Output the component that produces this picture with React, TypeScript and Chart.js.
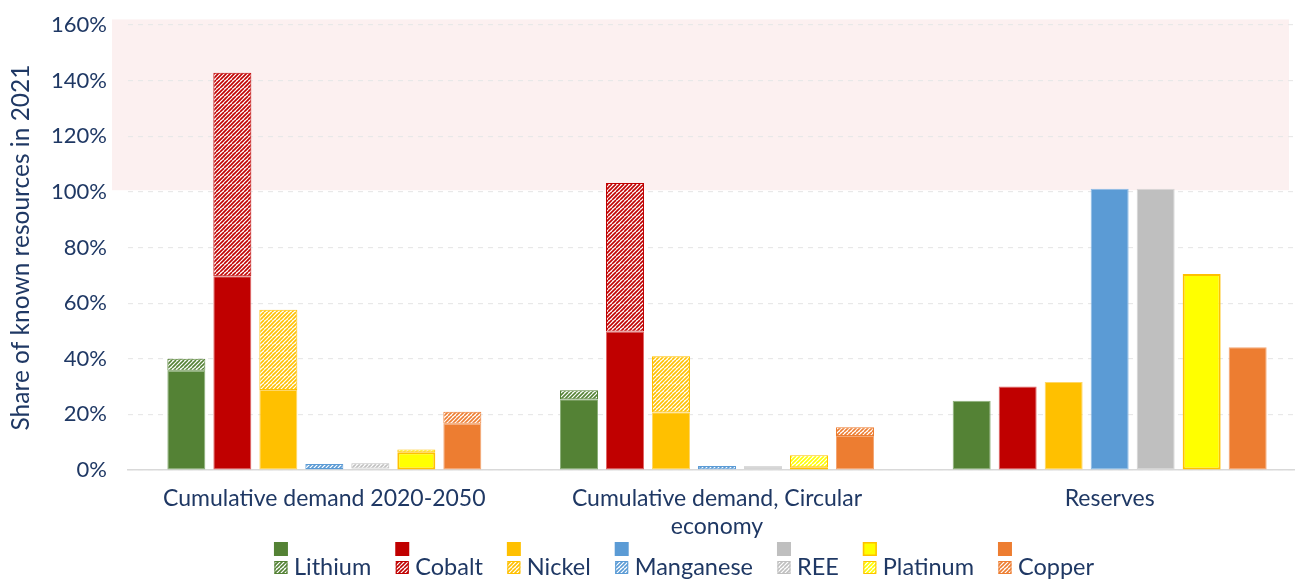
import React, { useEffect, useRef } from 'react';
import { Chart, registerables } from 'chart.js';

Chart.register(...registerables);

// ---------- data ----------
const categories: (string | string[])[] = [
  'Cumulative demand 2020-2050',
  ['Cumulative demand, Circular', 'economy'],
  'Reserves',
];
const materials = ['Lithium', 'Cobalt', 'Nickel', 'Manganese', 'REE', 'Platinum', 'Copper'];

// solid part (base) and hatched part (extra), % of known resources in 2021
const lithiumBase = [35.7, 25.4, 24.9];
const lithiumExtra = [4.3, 3.3, null];
const cobaltBase = [69.7, 49.8, 30.0];
const cobaltExtra = [73.1, 53.4, null];
const nickelBase = [28.8, 20.8, 31.6];
const nickelExtra = [28.8, 20.1, null];
const manganeseBase = [0.4, 0.3, 101.1];
const manganeseExtra = [1.8, 1.1, null];
const reeBase = [0.5, 1.2, 101.1];
const reeExtra = [1.9, 0.2, null];
const platinumBase = [6.4, 1.0, 70.5];
const platinumExtra = [1.0, 4.3, null];
const copperBase = [16.6, 12.2, 44.1];
const copperExtra = [4.3, 3.2, null];

const baseSeries = [lithiumBase, cobaltBase, nickelBase, manganeseBase, reeBase, platinumBase, copperBase];
const extraSeries = [lithiumExtra, cobaltExtra, nickelExtra, manganeseExtra, reeExtra, platinumExtra, copperExtra];

const yMin = 0;
const yMax = 160;
const yStep = 20;
const bandFrom = 100.6;
const bandTo = 162;

// ---------- styles ----------
const fills = ['#548235', '#C00000', '#FFC000', '#5B9BD5', '#BFBFBF', '#FFFF00', '#ED7D31'];
const borders = ['#8DB07A', '#E06666', '#FFD766', '#8DBBE6', '#D6D6D6', '#FFC000', '#F4A673'];
const borderWidths = [1, 1, 1, 1, 1, 2, 1];
const navy = '#1F3864';
const fontFamily = 'Lato, "Open Sans", sans-serif';

function makePattern(color: string): CanvasPattern {
  const c = document.createElement('canvas');
  c.width = 8;
  c.height = 8;
  const g = c.getContext('2d')!;
  g.fillStyle = '#ffffff';
  g.fillRect(0, 0, 8, 8);
  g.strokeStyle = color;
  g.lineWidth = 1.6;
  for (const k of [-8, -4, 0, 4, 8]) {
    g.beginPath();
    g.moveTo(k, 8);
    g.lineTo(k + 8, 0);
    g.stroke();
  }
  return g.createPattern(c, 'repeat')!;
}

export default function App() {
  const ref = useRef<HTMLCanvasElement | null>(null);

  useEffect(() => {
    const canvas = ref.current;
    if (!canvas) return;
    const patterns = fills.map((c) => makePattern(c));

    const datasets: any[] = [];
    materials.forEach((m, i) => {
      datasets.push({
        label: m + ' (base)',
        data: baseSeries[i],
        stack: m,
        backgroundColor: fills[i],
        borderColor: borders[i],
        borderWidth: borderWidths[i],
        borderSkipped: false,
      });
      datasets.push({
        label: m,
        data: extraSeries[i],
        stack: m,
        backgroundColor: patterns[i],
        borderColor: i === 5 ? '#FFC000' : fills[i],
        borderWidth: 1,
        borderSkipped: false,
      });
    });

    const bandPlugin = {
      id: 'band',
      beforeDraw(chart: any) {
        const { ctx, chartArea, scales } = chart;
        const y = scales.y;
        const top = y.getPixelForValue(bandTo);
        const bottom = y.getPixelForValue(bandFrom);
        ctx.save();
        ctx.fillStyle = '#FCF0F0';
        ctx.fillRect(chartArea.left - 16, top, chartArea.right - 17 - (chartArea.left - 16), bottom - top);
        ctx.restore();
      },
    };

    const legendPlugin = {
      id: 'customLegend',
      afterDraw(chart: any) {
        const { ctx, chartArea } = chart;
        ctx.save();
        ctx.font = '23.5px ' + fontFamily;
        const box = 14;
        const gapText = 6;
        const gapItem = 24;
        const widths = materials.map((m) => box + gapText + ctx.measureText(m).width);
        const total = widths.reduce((a, b) => a + b, 0) + gapItem * (materials.length - 1);
        const center = (chartArea.left + chartArea.right) / 2 - 33;
        let x = center - total / 2;
        const row1 = chartArea.bottom + 72;
        const row2 = chartArea.bottom + 91;
        materials.forEach((m, i) => {
          // solid box
          ctx.fillStyle = fills[i];
          ctx.fillRect(x, row1, box, box);
          if (i === 5) {
            ctx.strokeStyle = '#FFC000';
            ctx.lineWidth = 1.5;
            ctx.strokeRect(x + 0.75, row1 + 0.75, box - 1.5, box - 1.5);
          }
          // hatched box
          ctx.fillStyle = patterns[i];
          ctx.fillRect(x + 0.5, row2, box - 1, box - 1);
          ctx.strokeStyle = i === 5 ? '#FFC000' : fills[i];
          ctx.lineWidth = 1;
          ctx.strokeRect(x + 1, row2 + 0.5, box - 2, box - 2);
          // label
          ctx.fillStyle = navy;
          ctx.textBaseline = 'alphabetic';
          ctx.textAlign = 'left';
          ctx.fillText(m, x + box + gapText, row2 + 14);
          x += widths[i] + gapItem;
        });
        ctx.restore();
      },
    };

    const chart = new Chart(canvas, {
      type: 'bar',
      data: { labels: categories as any, datasets },
      options: {
        animation: false,
        responsive: false,
        maintainAspectRatio: false,
        layout: { padding: { left: 0, right: 14, top: 25, bottom: 0 } },
        plugins: {
          legend: { display: false },
          tooltip: { enabled: false },
          title: { display: false },
        },
        datasets: {
          bar: { categoryPercentage: 0.82, barPercentage: 0.826 },
        },
        scales: {
          x: {
            stacked: true,
            grid: { display: false, drawTicks: false },
            border: { display: true, color: '#D9D9D9', width: 1.5 },
            ticks: {
              color: navy,
              font: { family: fontFamily, size: 23 },
              padding: 15,
              maxRotation: 0,
              autoSkip: false,
            },
            afterFit(scale: any) {
              scale.height = 111;
              scale.paddingLeft = 0;
              scale.paddingRight = 0;
            },
          },
          y: {
            stacked: true,
            min: yMin,
            max: yMax,
            grid: { color: '#E8E8E8', lineWidth: 1.2, drawTicks: false },
            border: { display: false, dash: [5, 5] },
            ticks: {
              stepSize: yStep,
              color: navy,
              font: { family: fontFamily, size: 22 },
              padding: 21,
              callback: (v: any) => v + '%',
            },
            title: {
              display: true,
              text: 'Share of known resources in 2021',
              color: navy,
              font: { family: fontFamily, size: 24.5 },
              padding: { top: 6, bottom: 0 },
            },
            afterFit(scale: any) {
              scale.width = 128;
              scale.paddingTop = 0;
              scale.paddingBottom = 0;
            },
          },
        },
      },
      plugins: [bandPlugin, legendPlugin],
    });

    return () => chart.destroy();
  }, []);

  return (
    <div style={{ position: 'absolute', left: 0, top: 0, width: 1295, height: 581, overflow: 'hidden', background: '#fff' }}>
      <canvas ref={ref} width={1320} height={581} style={{ width: 1320, height: 581, display: 'block' }} />
    </div>
  );
}
